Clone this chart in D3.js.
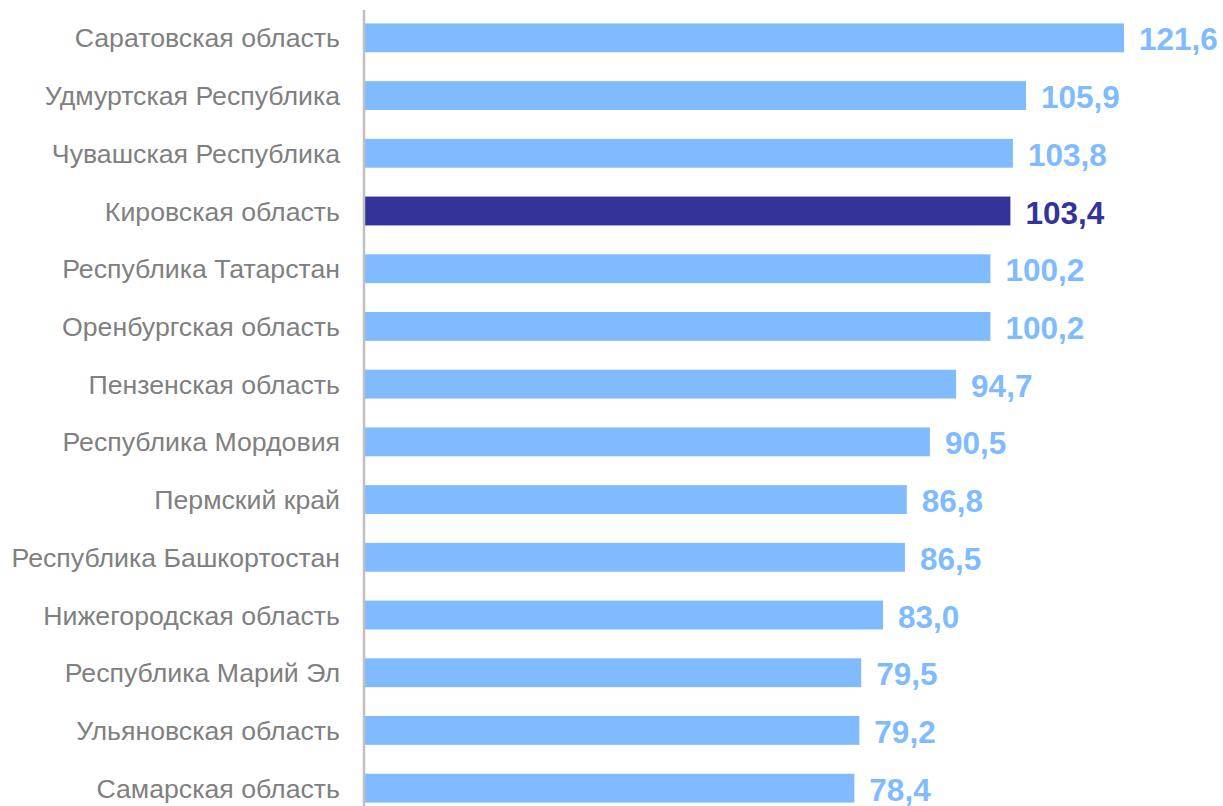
<!DOCTYPE html>
<html>
<head>
<meta charset="utf-8">
<script src="https://cdn.jsdelivr.net/npm/d3@7"></script>
<style>
  html, body { margin: 0; padding: 0; background: #fff; }
  svg { display: block; }
</style>
</head>
<body>
<svg id="chart" width="1223" height="806"></svg>
<script>
var regions = ["Саратовская область", "Удмуртская Республика", "Чувашская Республика", "Кировская область",
  "Республика Татарстан", "Оренбургская область", "Пензенская область", "Республика Мордовия",
  "Пермский край", "Республика Башкортостан", "Нижегородская область", "Республика Марий Эл",
  "Ульяновская область", "Самарская область"];
var values = [121.6, 105.9, 103.8, 103.4, 100.2, 100.2, 94.7, 90.5, 86.8, 86.5, 83.0, 79.5, 79.2, 78.4];
var highlight = "Кировская область";

var svg = d3.select("#chart");
var x0 = 365;

var x = d3.scaleLinear().domain([0, 121.6]).range([x0, 1124]);
var y = d3.scaleBand().domain(regions).range([9, 817]).paddingInner(0.5).paddingOuter(0.25);

var rows = d3.range(regions.length).map(function(i) { return { name: regions[i], value: values[i] } });

svg.append("g").selectAll("rect")
	.data(rows)
	.enter().append("rect")
	.attr("x", x(0))
	.attr("y", function(d) { return y(d.name) })
	.attr("width", function(d) { return x(d.value) - x(0) })
	.attr("height", y.bandwidth())
	.attr("fill", function(d) { return d.name == highlight ? "#333399" : "#80bbff" })

svg.append("g").selectAll("text")
	.data(rows)
	.enter().append("text")
	.attr("x", function(d) { return x(d.value) + 15 })
	.attr("y", function(d) { return y(d.name) + y.bandwidth() / 2 })
	.attr("dy", "0.40em")
	.attr("font-family", "Liberation Sans, Arial, sans-serif")
	.attr("font-weight", "bold")
	.attr("font-size", 31.5)
	.attr("fill", function(d) { return d.name == highlight ? "#333399" : "#80bbff" })
	.text(function(d) { return d3.format(".1f")(d.value).replace(".", ",") })

// category labels via a left axis, no ticks/domain
var yAxis = svg.append("g")
	.attr("transform", "translate(" + (x0 - 1) + ",0)")
	.call(d3.axisLeft(y).tickSize(0).tickPadding(24))
yAxis.select(".domain").remove()
yAxis.selectAll("text")
	.attr("dy", "0.36em")
	.attr("font-family", "Liberation Sans, Arial, sans-serif")
	.attr("font-size", 26.7)
	.attr("fill", "#808080")

svg.append("line")
	.attr("x1", x0 - 1).attr("x2", x0 - 1)
	.attr("y1", 10).attr("y2", 806)
	.attr("stroke", "#c0c0c0")
	.attr("stroke-width", 2.5)
</script>
</body>
</html>
